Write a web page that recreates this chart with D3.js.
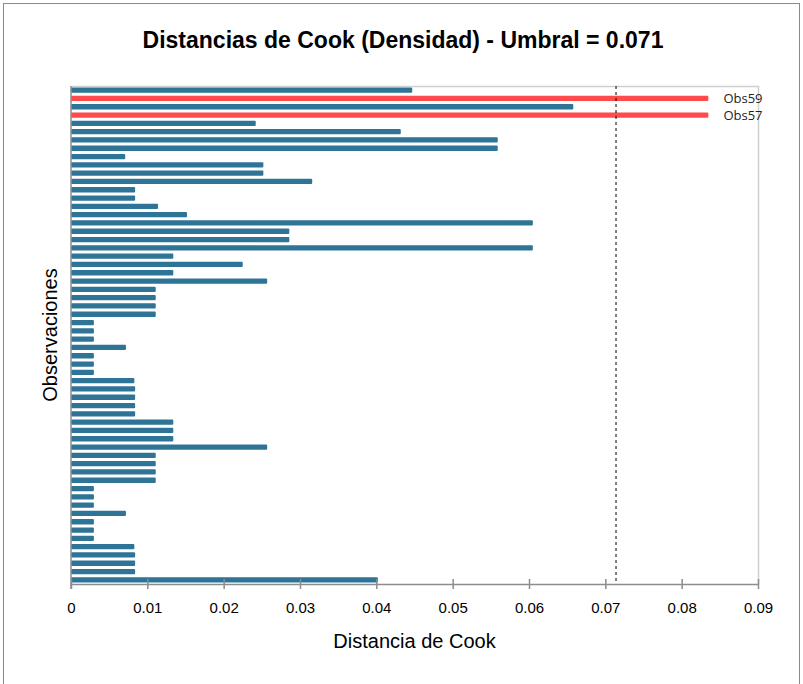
<!DOCTYPE html>
<html>
<head>
<meta charset="utf-8">
<script src="https://cdn.jsdelivr.net/npm/d3@7"></script>
<style>
  html, body { margin: 0; padding: 0; background: #fff; }
  svg { display: block; }
</style>
</head>
<body>
<svg id="chart" width="803" height="684"></svg>
<script>
// Observations, listed from Obs1 (bottom) to Obs60 (top)
const observations = d3.range(1, 61).map(i => "Obs" + i);
const cookValues = [
  0.0402, 0.0084, 0.0084, 0.0084, 0.0083, 0.0030, 0.0030, 0.0030, 0.0072, 0.0030,
  0.0030, 0.0030, 0.0111, 0.0111, 0.0111, 0.0111, 0.0257, 0.0134, 0.0134, 0.0134,
  0.0084, 0.0084, 0.0084, 0.0084, 0.0083, 0.0030, 0.0030, 0.0030, 0.0072, 0.0030,
  0.0030, 0.0030, 0.0111, 0.0111, 0.0111, 0.0111, 0.0257, 0.0134, 0.0225, 0.0134,
  0.0605, 0.0286, 0.0286, 0.0605, 0.0152, 0.0114, 0.0084, 0.0084, 0.0316, 0.0252,
  0.0252, 0.0071, 0.0559, 0.0559, 0.0432, 0.0242, 0.0835, 0.0658, 0.0835, 0.0447
];
const threshold = 0.0714;
const xTicks = [0, 0.01, 0.02, 0.03, 0.04, 0.05, 0.06, 0.07, 0.08, 0.09];
const titleText = "Distancias de Cook (Densidad) - Umbral = 0.071";
const xTitle = "Distancia de Cook";
const yTitle = "Observaciones";

const data = observations.map((o, i) => ({ obs: o, value: cookValues[i] }));

const svg = d3.select("#chart");
const plot = { left: 71, right: 758, top: 86, bottom: 584 };

// outer chart border
svg.append("rect")
  .attr("x", 3.5).attr("y", 3.5).attr("width", 796).attr("height", 690)
  .attr("fill", "#fff").attr("stroke", "#8a8a8a").attr("stroke-width", 1);

const x = d3.scaleLinear().domain([0, 0.09]).range([plot.left, plot.right]);
const y = d3.scaleBand()
  .domain(observations.slice().reverse())
  .range([plot.top, plot.bottom])
  .paddingInner(0.36).paddingOuter(0.18);

// plot frame (top & right light lines)
svg.append("path")
  .attr("d", `M${plot.left},${plot.top + 0.5}H${plot.right + 0.5}V${plot.bottom}`)
  .attr("fill", "none").attr("stroke", "#d0d0d0").attr("stroke-width", 1.5);

// bars
svg.append("g").selectAll("rect").data(data).enter().append("rect")
  .attr("x", x(0))
  .attr("y", d => y(d.obs))
  .attr("width", d => x(d.value) - x(0))
  .attr("height", y.bandwidth())
  .attr("rx", 1)
  .attr("fill", d => d.value > threshold ? "#FF4B4B" : "#2E7497");

// labels for influential observations
svg.append("g").selectAll("text").data(data.filter(d => d.value > threshold)).enter().append("text")
  .attr("x", d => x(d.value) + 15)
  .attr("y", d => y(d.obs) + y.bandwidth() / 2)
  .attr("dy", "0.35em")
  .attr("font-family", "'Open Sans', 'Liberation Sans', sans-serif")
  .attr("font-size", 13)
  .attr("fill", "#222")
  .text(d => d.obs);

// threshold line
svg.append("line")
  .attr("x1", x(threshold)).attr("x2", x(threshold))
  .attr("y1", plot.top).attr("y2", plot.bottom)
  .attr("stroke", "#000").attr("stroke-width", 1)
  .attr("stroke-dasharray", "3,3");

// x axis
const xAxis = d3.axisBottom(x).tickValues(xTicks).tickFormat(d => d === 0 ? "0" : d3.format(".2f")(d))
  .tickSizeInner(5).tickSizeOuter(0).tickPadding(13);
const gx = svg.append("g").attr("transform", `translate(0,${plot.bottom})`).call(xAxis);
gx.select(".domain").attr("stroke", "#8c8c8c").attr("stroke-width", 1.5);
gx.selectAll(".tick line").attr("stroke", "#8c8c8c").attr("stroke-width", 1.5).attr("y1", -5).attr("y2", 5);
gx.selectAll(".tick text")
  .attr("font-family", "'Liberation Sans', Arial, sans-serif")
  .attr("font-size", 15).attr("fill", "#000");

// y axis line
svg.append("line")
  .attr("x1", plot.left).attr("x2", plot.left)
  .attr("y1", plot.top).attr("y2", plot.bottom + 5)
  .attr("stroke", "#8c8c8c").attr("stroke-width", 1.5);

// titles
svg.append("text")
  .attr("x", 403).attr("y", 48)
  .attr("text-anchor", "middle")
  .attr("font-family", "'Liberation Sans', Arial, sans-serif")
  .attr("font-weight", "bold").attr("font-size", 23)
  .attr("fill", "#000")
  .text(titleText);

svg.append("text")
  .attr("x", (plot.left + plot.right) / 2).attr("y", 648)
  .attr("text-anchor", "middle")
  .attr("font-family", "'Liberation Sans', Arial, sans-serif")
  .attr("font-size", 20).attr("fill", "#000")
  .text(xTitle);

svg.append("text")
  .attr("transform", `translate(57,${(plot.top + plot.bottom) / 2}) rotate(-90)`)
  .attr("text-anchor", "middle")
  .attr("font-family", "'Liberation Sans', Arial, sans-serif")
  .attr("font-size", 20).attr("fill", "#000")
  .text(yTitle);
</script>
</body>
</html>
